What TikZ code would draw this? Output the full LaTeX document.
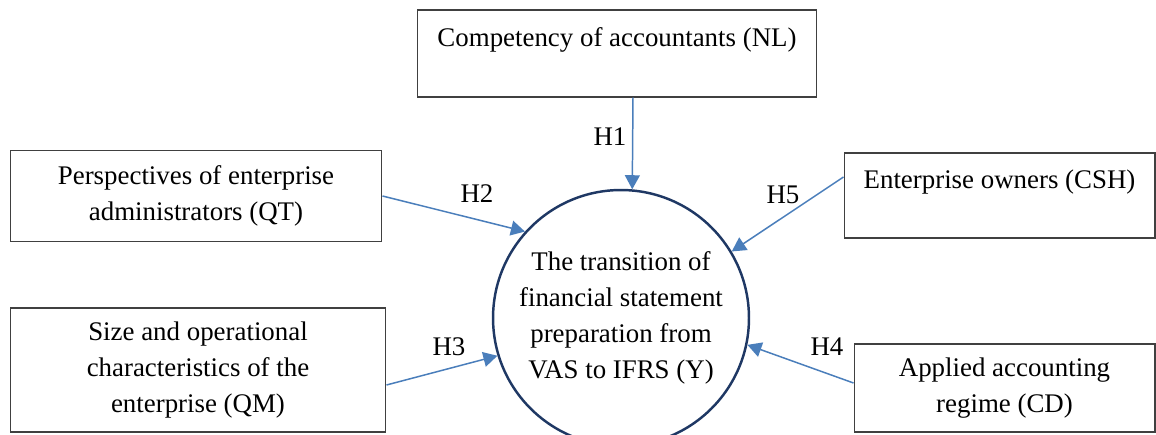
\documentclass[tikz,border=0pt]{standalone}
\usepackage{fontspec}
\setmainfont{Liberation Serif}
\usetikzlibrary{arrows.meta}
\definecolor{arrowblue}{RGB}{74,126,187}
\definecolor{circnavy}{RGB}{31,56,100}
\definecolor{boxgray}{RGB}{64,64,64}
\begin{document}
\begin{tikzpicture}
      [x=0.02cm,y=-0.02cm,font=\fontsize{15.3}{20.5}\selectfont,
       box/.style={draw=boxgray, line width=0.6pt, inner sep=0pt, align=center},
       hyp/.style={-{Triangle[length=8pt,width=8.5pt]}, draw=arrowblue, line width=0.85pt},
       hlabel/.style={inner sep=0pt}]
    \useasboundingbox (0,0) rectangle (1156,435);

    \node[box, minimum width=8cm, minimum height=1.74cm, text height=0.74cm, text depth=1.0cm]
      (nl) at (617,53.5) {Competency of accountants (NL)};
    \node[box, minimum width=7.44cm, minimum height=1.82cm]
      (qt) at (196,196) {Perspectives of enterprise\\administrators (QT)};
    \node[box, minimum width=6.22cm, minimum height=1.7cm, text height=0.72cm, text depth=0.98cm]
      (csh) at (999.5,195.5) {Enterprise owners (CSH)};
    \node[box, minimum width=7.52cm, minimum height=2.48cm]
      (qm) at (198,370) {Size and operational\\characteristics of the\\enterprise (QM)};
    \node[box, minimum width=6.02cm, minimum height=1.76cm]
      (cd) at (1004.5,388) {Applied accounting\\regime (CD)};

    \node[draw=circnavy, line width=1.4pt, circle, minimum size=5.12cm, inner sep=0pt, align=center]
      (ifrs) at (621,318) {The transition of\\financial statement\\preparation from\\VAS to IFRS (Y)};

    % start points of the hypotheses
    \coordinate (h1s) at ([xshift=0.32cm]nl.south);
    \coordinate (h5s) at ([yshift=0.37cm]csh.west);
    \coordinate (h3s) at ([yshift=-0.3cm]qm.east);
    \coordinate (h4s) at ([yshift=0.1cm]cd.west);

    \foreach \from/\to in {h1s/ifrs.85, qt.east/ifrs.138, h5s/ifrs.31, h3s/ifrs.197, h4s/ifrs.-12}
      \draw (\from) edge[hyp] (\to);

    \node[hlabel] (l1) at (610,137) {H1};
    \node[hlabel] (l2) at (477,194) {H2};
    \node[hlabel] (l5) at (783,195) {H5};
    \node[hlabel] (l3) at (449,347) {H3};
    \node[hlabel] (l4) at (827,347) {H4};
\end{tikzpicture}
\end{document}
